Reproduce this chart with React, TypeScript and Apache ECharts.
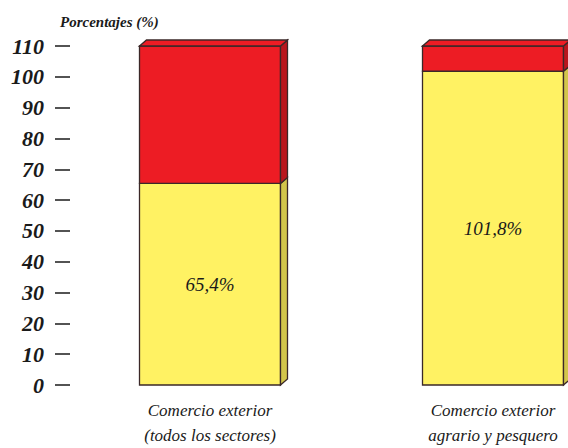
import React, { useEffect, useRef } from "react";
import * as echarts from "echarts";

const categories = ["Comercio exterior\n(todos los sectores)", "Comercio exterior\nagrario y pesquero"];
const yellowValues = [65.4, 101.8];
const redValues = [44.6, 8.2];
const valueLabels = ["65,4%", "101,8%"];
const yTicks = [0, 10, 20, 30, 40, 50, 60, 70, 80, 90, 100, 110];
const axisTitle = "Porcentajes (%)";

const SERIF = "'Liberation Serif', 'Times New Roman', 'DejaVu Serif', serif";
const BAR_W = 141;
const DX = 7;
const DY = 6;
const RED = "#ED1C24";
const RED_SIDE = "#B9161D";
const YELLOW = "#FFF263";
const YELLOW_SIDE = "#D2C54B";
const EDGE = "#3B2828";

export default function App() {
  const ref = useRef<HTMLDivElement>(null);
  useEffect(() => {
    if (!ref.current) return;
    const chart = echarts.init(ref.current, null, { renderer: "svg" });
    const data = categories.map((_, i) => [i, yellowValues[i], yellowValues[i] + redValues[i]]);
    chart.setOption({
      animation: false,
      backgroundColor: "#ffffff",
      title: {
        text: axisTitle,
        left: 55,
        top: 9,
        textStyle: {
          fontFamily: SERIF,
          fontStyle: "italic",
          fontWeight: "bold",
          fontSize: 15,
          color: "#1a1a1a",
        },
      },
      grid: { left: 210, right: 75, top: 46, bottom: 63, outerBoundsMode: "none", containLabel: false },
      xAxis: {
        type: "category",
        data: categories,
        boundaryGap: false,
        axisLine: { show: false },
        axisTick: { show: false },
        axisLabel: {
          margin: 13,
          fontFamily: SERIF,
          fontStyle: "italic",
          fontSize: 17,
          lineHeight: 25,
          color: "#1a1a1a",
        },
      },
      yAxis: {
        type: "value",
        min: yTicks[0],
        max: yTicks[yTicks.length - 1],
        interval: 10,
        offset: 140,
        splitLine: { show: false },
        axisLine: { show: false },
        axisTick: { show: true, length: 15, lineStyle: { color: "#1a1a1a", width: 1.5 } },
        axisLabel: {
          margin: 26,
          fontFamily: SERIF,
          fontStyle: "italic",
          fontWeight: "bold",
          fontSize: 22,
          color: "#1a1a1a",
        },
      },
      series: [
        {
          type: "custom",
          encode: { x: 0, y: [1, 2] },
          data,
          renderItem: (params: any, api: any) => {
            const i = api.value(0);
            const p0 = api.coord([i, 0]);
            const p1 = api.coord([i, api.value(1)]);
            const p2 = api.coord([i, api.value(2)]);
            const xl = p0[0] - BAR_W / 2;
            const xr = p0[0] + BAR_W / 2;
            const y0 = p0[1];
            const y1 = p1[1];
            const y2 = p2[1];
            const edge = { stroke: EDGE, lineWidth: 1.3 };
            return {
              type: "group",
              children: [
                { type: "rect", shape: { x: xl, y: y1, width: BAR_W, height: y0 - y1 }, style: { fill: YELLOW, ...edge } },
                { type: "rect", shape: { x: xl, y: y2, width: BAR_W, height: y1 - y2 }, style: { fill: RED, ...edge } },
                {
                  type: "polygon",
                  shape: { points: [[xr, y0], [xr + DX, y0 - DY], [xr + DX, y1 - DY], [xr, y1]] },
                  style: { fill: YELLOW_SIDE, ...edge },
                },
                {
                  type: "polygon",
                  shape: { points: [[xr, y1], [xr + DX, y1 - DY], [xr + DX, y2 - DY], [xr, y2]] },
                  style: { fill: RED_SIDE, ...edge },
                },
                {
                  type: "polygon",
                  shape: { points: [[xl, y2], [xl + DX, y2 - DY], [xr + DX, y2 - DY], [xr, y2]] },
                  style: { fill: RED, ...edge },
                },
                {
                  type: "text",
                  x: p0[0],
                  y: (y0 + y1) / 2,
                  style: {
                    text: valueLabels[i],
                    align: "center",
                    verticalAlign: "middle",
                    fontFamily: SERIF,
                    fontStyle: "italic",
                    fontSize: 19,
                    fill: "#1a1a1a",
                  },
                },
              ],
            };
          },
        },
      ],
    });
    return () => chart.dispose();
  }, []);
  return <div ref={ref} style={{ position: "fixed", left: 0, top: 0, width: 568, height: 448 }} />;
}
